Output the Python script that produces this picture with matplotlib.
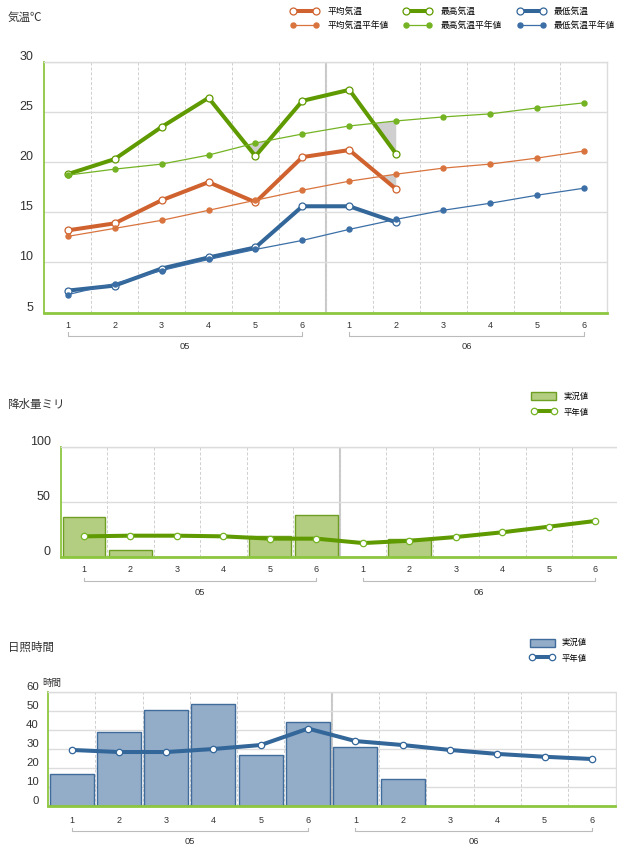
import numpy as np
import matplotlib
matplotlib.use("Agg")
import matplotlib.pyplot as plt
from matplotlib.transforms import blended_transform_factory, ScaledTranslation

plt.rcParams['font.family'] = ['Liberation Sans', 'Noto Sans CJK JP', 'DejaVu Sans']

# ---------------- data ----------------
days = ['1', '2', '3', '4', '5', '6', '1', '2', '3', '4', '5', '6']
months = ['05', '06']

temp_avg = [13.2, 13.9, 16.2, 18.0, 16.0, 20.5, 21.2, 17.3]
temp_avg_norm = [12.6, 13.4, 14.2, 15.2, 16.2, 17.2, 18.1, 18.8, 19.4, 19.8, 20.4, 21.1]
temp_max = [18.8, 20.3, 23.5, 26.4, 20.6, 26.1, 27.2, 20.8]
temp_max_norm = [18.7, 19.3, 19.8, 20.7, 21.9, 22.8, 23.6, 24.1, 24.5, 24.8, 25.4, 25.9]
temp_min = [7.2, 7.7, 9.4, 10.5, 11.5, 15.6, 15.6, 14.0]
temp_min_norm = [6.8, 7.9, 9.2, 10.3, 11.3, 12.2, 13.3, 14.3, 15.2, 15.9, 16.7, 17.4]

precip_actual = [36.4, 5.8, 0, 0, 18.8, 37.6, 0, 16.5]
precip_norm = [18.5, 19.1, 19.1, 18.5, 16.4, 16.4, 12.4, 14.5, 17.9, 22.2, 27.3, 32.5]

sun_actual = [16.6, 39.0, 50.5, 53.8, 26.8, 44.3, 31.2, 14.1]
sun_norm = [29.5, 28.4, 28.4, 30.0, 32.1, 40.8, 34.2, 32.1, 29.5, 27.4, 25.9, 24.7]

temp_ticks = [5, 10, 15, 20, 25, 30]
precip_ticks = [0, 50, 100]
sun_ticks = [0, 10, 20, 30, 40, 50, 60]

# ---------------- style ----------------
W, H = 617, 849
DPI = 100
ORANGE = '#CF622E'
ORANGE_N = '#D9743E'
GREEN = '#5F9A00'
GREEN_N = '#74B323'
BLUE = '#336699'
BLUE_N = '#3B6FA6'
AXGREEN = '#8DC63F'
GRID = '#dcdcdc'
VGRID = '#cfcfcf'
TXT = '#333333'

fig = plt.figure(figsize=(W / DPI, H / DPI), dpi=DPI)


def fx(px):
    return px / W


def fy(py):
    return 1 - py / H


def make_ax(left, top, right, bottom):
    return fig.add_axes([fx(left), fy(bottom), (right - left) / W, (bottom - top) / H])


n = len(days)
x_all = np.arange(n)


def style_ax(ax, ticks, ylim, lab_dx_px, tick_fs):
    ax.set_xlim(-0.5, n - 0.5)
    ax.set_ylim(*ylim)
    ax.set_yticks(ticks)
    ax.set_xticks([])
    ax.set_xticks(np.arange(0.5, n - 1, 1), minor=True)
    ax.tick_params(which='both', length=0, labelleft=False, labelbottom=False)
    ax.yaxis.grid(True, color=GRID, lw=1.0, zorder=0)
    ax.xaxis.grid(True, which='minor', color=VGRID, lw=0.7, ls=(0, (3, 2)), zorder=0)
    ax.axvline(5.5, color='#c8c8c8', lw=1.5, zorder=0.5)
    ax.set_axisbelow(True)
    for s in ['top', 'right']:
        ax.spines[s].set_color(GRID)
        ax.spines[s].set_linewidth(1.0)
    ax.spines['left'].set_color(AXGREEN)
    ax.spines['left'].set_linewidth(1.3)
    ax.spines['bottom'].set_color(AXGREEN)
    ax.spines['bottom'].set_linewidth(2.0)
    for t in ticks:
        ax.annotate(str(t), xy=(0, t), xycoords=('axes fraction', 'data'),
                    xytext=(-lab_dx_px * 0.72, 5 * 0.72), textcoords='offset points',
                    ha='right', va='center', fontsize=tick_fs, color=TXT,
                    annotation_clip=False)


def x_labels(ax, lab_dy, br_dy, grp_dy):
    for i, d in enumerate(days):
        ax.annotate(d, xy=(i, 0), xycoords=('data', 'axes fraction'),
                    xytext=(0, -lab_dy * 0.72), textcoords='offset points',
                    ha='center', va='center', fontsize=6.5, color=TXT,
                    annotation_clip=False)
    trans = blended_transform_factory(ax.transData, ax.transAxes)
    for g, m in enumerate(months):
        a, b = g * 6, g * 6 + 5
        tr = trans + ScaledTranslation(0, -br_dy / DPI, fig.dpi_scale_trans)
        hh = 3.5 / (ax.get_position().height * H)
        ax.plot([a, a, b, b], [hh, 0, 0, hh],
                transform=tr, color='#bbbbbb', lw=0.8, clip_on=False)
        ax.annotate(m, xy=((a + b) / 2, 0), xycoords=('data', 'axes fraction'),
                    xytext=(0, -grp_dy * 0.72), textcoords='offset points',
                    ha='center', va='center', fontsize=6.7, color=TXT,
                    annotation_clip=False)


# ---------------- panel 1 : temperature ----------------
ax1 = make_ax(44.3, 61.7, 607.4, 312.7)
style_ax(ax1, temp_ticks, (5, 30), 11, 9)

x8 = np.arange(len(temp_max))
series = [
    (temp_avg, temp_avg_norm, ORANGE, ORANGE_N, '平均気温', '平均気温平年値'),
    (temp_max, temp_max_norm, GREEN, GREEN_N, '最高気温', '最高気温平年値'),
    (temp_min, temp_min_norm, BLUE, BLUE_N, '最低気温', '最低気温平年値'),
]
handles = []
labels = []
for act, nor, c, cn, la, ln in series:
    act = np.array(act)
    nor = np.array(nor)
    ax1.fill_between(x8, act, nor[:len(act)], where=act < nor[:len(act)],
                     interpolate=True, color='#cfcfcf', lw=0, zorder=1)
    h1, = ax1.plot(x8, act, color=c, lw=2.9, marker='o', ms=5, mfc='white',
                   mec=c, mew=0.9, zorder=3, solid_joinstyle='round')
    h2, = ax1.plot(x_all, nor, color=cn, lw=0.9, marker='o', ms=3.6, mfc=cn,
                   mec=cn, zorder=4)
    handles += [h1, h2]
    labels += [la, ln]

x_labels(ax1, 13, 23.3, 34)

fig.legend(handles, labels, ncol=3, loc='upper left',
           bbox_to_anchor=(fx(290.5), fy(7.0)), frameon=False, numpoints=2,
           fontsize=6.3, handlelength=3.2, handletextpad=1.0, columnspacing=1.75,
           labelspacing=0.6, borderpad=0, borderaxespad=0)

fig.text(fx(8), fy(18), '気温℃', fontsize=8.3, color=TXT, ha='left', va='center')

# ---------------- panel 2 : precipitation ----------------
ax2 = make_ax(60.7, 446.7, 618.7, 556.7)
style_ax(ax2, precip_ticks, (0, 100), 10, 9)
b2 = ax2.bar(x8, precip_actual, width=0.92, color='#B3CE80', edgecolor='#6E9F22',
             lw=1.0, zorder=2)
l2, = ax2.plot(x_all, precip_norm, color=GREEN, lw=2.9, marker='o', ms=4.6,
               mfc='white', mec=GREEN_N, mew=0.9, zorder=3)
x_labels(ax2, 13.3, 24.3, 35.6)
fig.legend([b2, l2], ['実況値', '平年値'], loc='upper left',
           bbox_to_anchor=(fx(531), fy(392.5)), frameon=False, numpoints=2,
           fontsize=6, handlelength=3.0, handleheight=1.1, handletextpad=0.9,
           labelspacing=0.8, borderpad=0, borderaxespad=0)
fig.text(fx(7), fy(405), '降水量ミリ', fontsize=8.3, color=TXT, ha='left', va='center')

# ---------------- panel 3 : sunshine ----------------
ax3 = make_ax(47.9, 692.3, 615.5, 805.7)
style_ax(ax3, sun_ticks, (0, 60), 9, 8.2)
b3 = ax3.bar(x8, sun_actual, width=0.93, color='#93ACC8', edgecolor='#3F6C9B',
             lw=1.0, zorder=2)
l3, = ax3.plot(x_all, sun_norm, color=BLUE, lw=2.9, marker='o', ms=4.6,
               mfc='white', mec=BLUE, mew=0.9, zorder=3)
x_labels(ax3, 14.3, 25.3, 36)
fig.legend([b3, l3], ['実況値', '平年値'], loc='upper left',
           bbox_to_anchor=(fx(529.5), fy(638.5)), frameon=False, numpoints=2,
           fontsize=6, handlelength=3.0, handleheight=1.1, handletextpad=0.9,
           labelspacing=0.8, borderpad=0, borderaxespad=0)
fig.text(fx(8), fy(648), '日照時間', fontsize=8.3, color=TXT, ha='left', va='center')
fig.text(fx(42.5), fy(683), '時間', fontsize=6.8, color=TXT, ha='left', va='center')

fig.savefig('out.png', dpi=DPI)
